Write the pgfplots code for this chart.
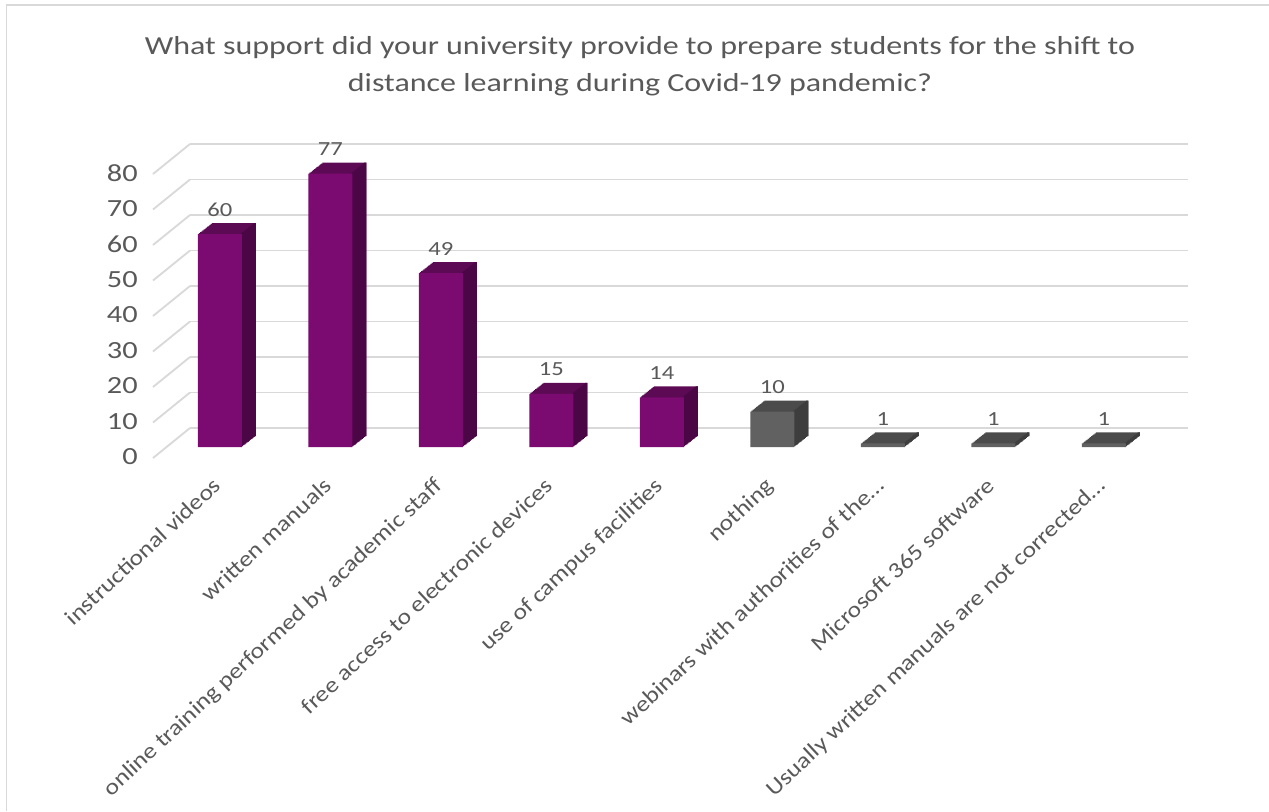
\documentclass[border=0pt]{standalone}
\usepackage{pgfplots}
\pgfplotsset{compat=1.18}
\usepackage{pgfplotstable}
\usepackage{fontspec}
\setmainfont{Carlito}[FakeStretch=1.23]
\newfontfamily\labfont{Carlito}[FakeStretch=1.15]
\pgfplotsset{/pgf/number format/assume math mode=true}
\definecolor{txt}{HTML}{595959}
\definecolor{gridc}{HTML}{D9D9D9}
\definecolor{pfront}{HTML}{7B0B70}
\definecolor{ptop}{HTML}{5D0A55}
\definecolor{pside}{HTML}{4B0645}
\definecolor{gfront}{HTML}{616161}
\definecolor{gtop}{HTML}{4B4B4B}
\definecolor{gside}{HTML}{3D3D3D}

\pgfplotstableread{
x v
0 60
1 77
2 49
3 15
4 14
}\purpledata
\pgfplotstableread{
x v
5 10
6 1
7 1
8 1
}\greydata

\begin{document}
\begin{tikzpicture}
\useasboundingbox (0,0) rectangle (951.75pt,608.25pt);
\draw[gridc, line width=1.2pt] (4.9pt,0) -- (4.9pt,604.5pt) -- (951.75pt,604.5pt);
\node[text=txt, font=\fontsize{19.5}{24}\selectfont, anchor=base] at (480pt,567.5pt) {What support did your university provide to prepare students for the shift to};
\node[text=txt, font=\fontsize{19.5}{24}\selectfont, anchor=base] at (480pt,539.5pt) {distance learning during Covid-19 pandemic?};

% back wall with gridlines
\begin{axis}[at={(142.5pt,287.25pt)}, anchor=south west,
  width=748.5pt, height=213pt, scale only axis,
  xmin=0, xmax=1, ymin=0, ymax=80,
  ytick={0,10,...,80}, xtick=\empty, yticklabels={},
  ymajorgrids, grid style={gridc, line width=1.4pt},
  axis line style={draw=none}, major tick length=0pt, clip=false]
\pgfplotsinvokeforeach{0,10,...,80}{
  \draw[gridc, line width=1.4pt] ([xshift=-27.75pt,yshift=-22.5pt]axis cs:0,#1) -- (axis cs:0,#1);
}
\end{axis}

% bar plane
\begin{axis}[at={(123.4pt,273pt)}, anchor=south west,
  width=745.9pt, height=213pt, scale only axis,
  xmin=-0.5, xmax=8.5, ymin=0, ymax=80,
  axis line style={draw=none}, major tick length=0pt, clip=false,
  ytick={0,10,...,80}, xtick={0,...,8},
  xticklabels={instructional videos, written manuals, online training performed by academic staff, free access to electronic devices, use of campus facilities, nothing, webinars with authorities of the…, Microsoft 365 software, Usually written manuals are not corrected…},
  ticklabel style={text=txt},
  yticklabel style={anchor=east, inner sep=0pt, xshift=-19.9pt, yshift=-7.5pt, font=\fontsize{18.5}{22}\selectfont},
  xticklabel style={anchor=north east, inner sep=0pt, xshift=-6pt, yshift=-21.75pt, rotate=43, font=\labfont\fontsize{16.7}{19}\selectfont},
]
% depth layers (top colour)
\pgfplotsinvokeforeach{12,11,...,1}{
  \addplot[ybar, bar width=33pt, bar shift={#1*0.875pt}, yshift={#1*0.6875pt}, fill=ptop, draw=none, forget plot] table[x=x,y=v]{\purpledata};
  \addplot[ybar, bar width=33pt, bar shift={#1*0.875pt}, yshift={#1*0.6875pt}, fill=gtop, draw=none, forget plot] table[x=x,y=v]{\greydata};
}
% side faces
\pgfplotsinvokeforeach{1,...,12}{
  \addplot[ybar, bar width=1.6pt, bar shift={15.7pt+#1*0.875pt}, yshift={#1*0.6875pt}, fill=pside, draw=none, forget plot] table[x=x,y=v]{\purpledata};
  \addplot[ybar, bar width=1.6pt, bar shift={15.7pt+#1*0.875pt}, yshift={#1*0.6875pt}, fill=gside, draw=none, forget plot] table[x=x,y=v]{\greydata};
}
% front faces
\addplot[ybar, bar width=33pt, bar shift=0pt, fill=pfront, draw=none,
  nodes near coords, nodes near coords style={anchor=base, yshift=13.5pt, text=txt, font=\fontsize{15}{18}\selectfont}]
  table[x=x,y=v]{\purpledata};
\addplot[ybar, bar width=33pt, bar shift=0pt, fill=gfront, draw=none,
  nodes near coords, nodes near coords style={anchor=base, yshift=13.5pt, text=txt, font=\fontsize{15}{18}\selectfont}]
  table[x=x,y=v]{\greydata};
\end{axis}
\end{tikzpicture}
\end{document}
